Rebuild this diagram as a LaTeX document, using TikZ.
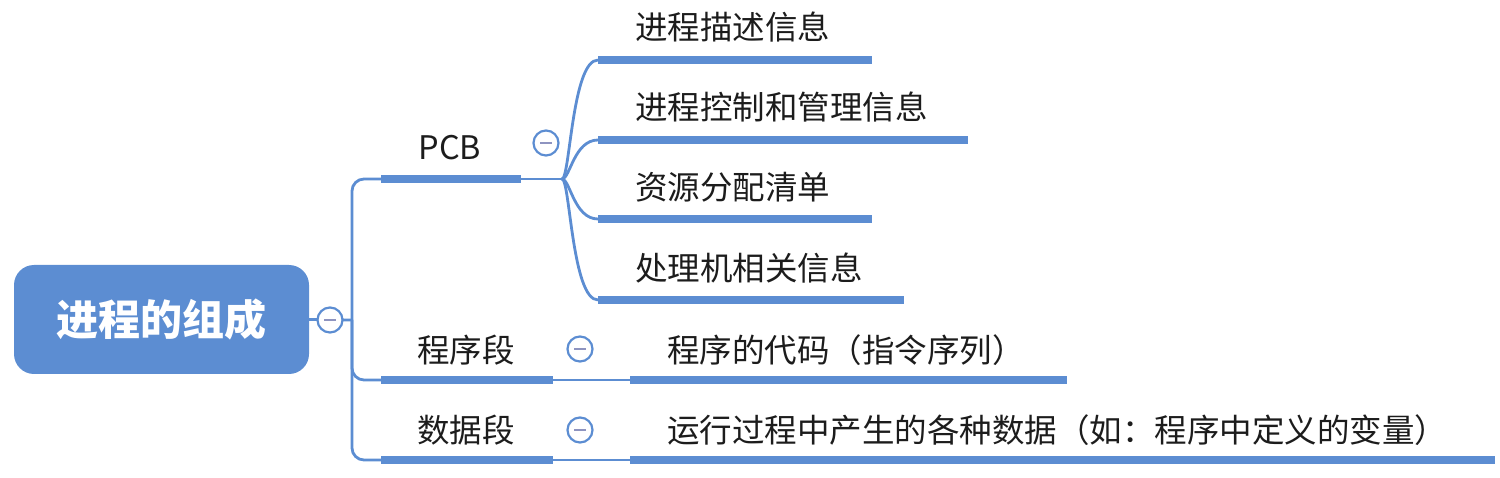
\documentclass[tikz,border=0pt]{standalone}
\usepackage{fontspec}
\setmainfont{Noto Sans CJK SC}
\definecolor{mapblue}{HTML}{5C8DD2}
\definecolor{txtc}{HTML}{1C1C1C}
\definecolor{minusc}{HTML}{8E94C0}
\tikzset{
  bar/.style={draw=mapblue, line width=7.5pt},
  thin/.style={draw=mapblue, line width=2.8pt},
  lbl/.style={anchor=west, inner sep=0pt, text=txtc, font=\fontsize{32.5}{32.5}\selectfont},
  plbl/.style={anchor=center, inner sep=0pt, text=txtc, font=\fontsize{32.5}{32.5}\selectfont},
  fold/.style={circle, draw=mapblue, line width=2.2pt, fill=white, minimum size=25pt, inner sep=0pt,
    path picture={\draw[minusc, line width=2pt] ([xshift=-6pt]path picture bounding box.center) -- ([xshift=6pt]path picture bounding box.center);}},
}
\begin{document}
\begin{tikzpicture}[x=1pt,y=-1pt]
\useasboundingbox (0,0) rectangle (1500,478);
% root
\node[fill=mapblue, rounded corners=20pt, minimum width=295pt, minimum height=109pt, inner sep=0pt,
  text=white, font=\bfseries\fontsize{42}{42}\selectfont] (root) at (161.5,319.5) {进程的组成};
% trunk coordinates
\coordinate (tj) at (352,320);
\coordinate (pcbL) at (381,179);
\coordinate (pcbR) at (521,179);
\coordinate (pcbJ) at (562,179);
\coordinate (cxL) at (381,380);
\coordinate (cxR) at (553,380);
\coordinate (sjL) at (381,460);
\coordinate (sjR) at (553,460);
% trunk lines
\draw[thin] (root.east) -- (tj);
\draw[thin, rounded corners=12pt] (tj) |- (pcbL);
\draw[thin, rounded corners=12pt] (tj) |- (cxL);
\draw[thin, rounded corners=12pt] (tj) |- (sjL);
\node[fold] (f0) at (330,320) {};
% PCB branch
\draw[bar] (pcbL) -- (pcbR);
\draw[thin] (pcbR) -- (pcbJ);
\node[plbl] (pcb) at (450,148) {PCB};
\node[fold] (f1) at (546,143) {};
\coordinate (a1) at (598,60);
\coordinate (a2) at (598,140);
\coordinate (a3) at (598,219);
\coordinate (a4) at (598,300);
\coordinate (b1) at (872,60);
\coordinate (b2) at (968,140);
\coordinate (b3) at (872,219);
\coordinate (b4) at (904,300);
\draw[thin] (pcbJ) .. controls (570,179) and (572,60) .. (a1);
\draw[thin] (pcbJ) .. controls (570,179) and (574,140) .. (a2);
\draw[thin] (pcbJ) .. controls (570,179) and (574,219) .. (a3);
\draw[thin] (pcbJ) .. controls (570,179) and (572,300) .. (a4);
\draw[bar] (a1) -- (b1);
\draw[bar] (a2) -- (b2);
\draw[bar] (a3) -- (b3);
\draw[bar] (a4) -- (b4);
\node[lbl] (t1) at (635,27) {进程描述信息};
\node[lbl] (t2) at (635,107) {进程控制和管理信息};
\node[lbl] (t3) at (635,187) {资源分配清单};
\node[lbl] (t4) at (635,268) {处理机相关信息};
% 程序段
\draw[bar] (cxL) -- (cxR);
\node[plbl] (cx) at (466,350) {程序段};
\node[fold] (f2) at (580,349) {};
\coordinate (c1) at (630,380);
\coordinate (c2) at (1067,380);
\draw[thin] (cxR) -- (c1);
\draw[bar] (c1) -- (c2);
\node[lbl] (t5) at (667,350) {程序的代码（指令序列）};
% 数据段
\draw[bar] (sjL) -- (sjR);
\node[plbl] (sj) at (466,430) {数据段};
\node[fold] (f3) at (580,430) {};
\coordinate (d1) at (630,460);
\coordinate (d2) at (1495,460);
\draw[thin] (sjR) -- (d1);
\draw[bar] (d1) -- (d2);
\node[lbl] (t6) at (667,430) {运行过程中产生的各种数据（如：程序中定义的变量）};
\end{tikzpicture}
\end{document}
